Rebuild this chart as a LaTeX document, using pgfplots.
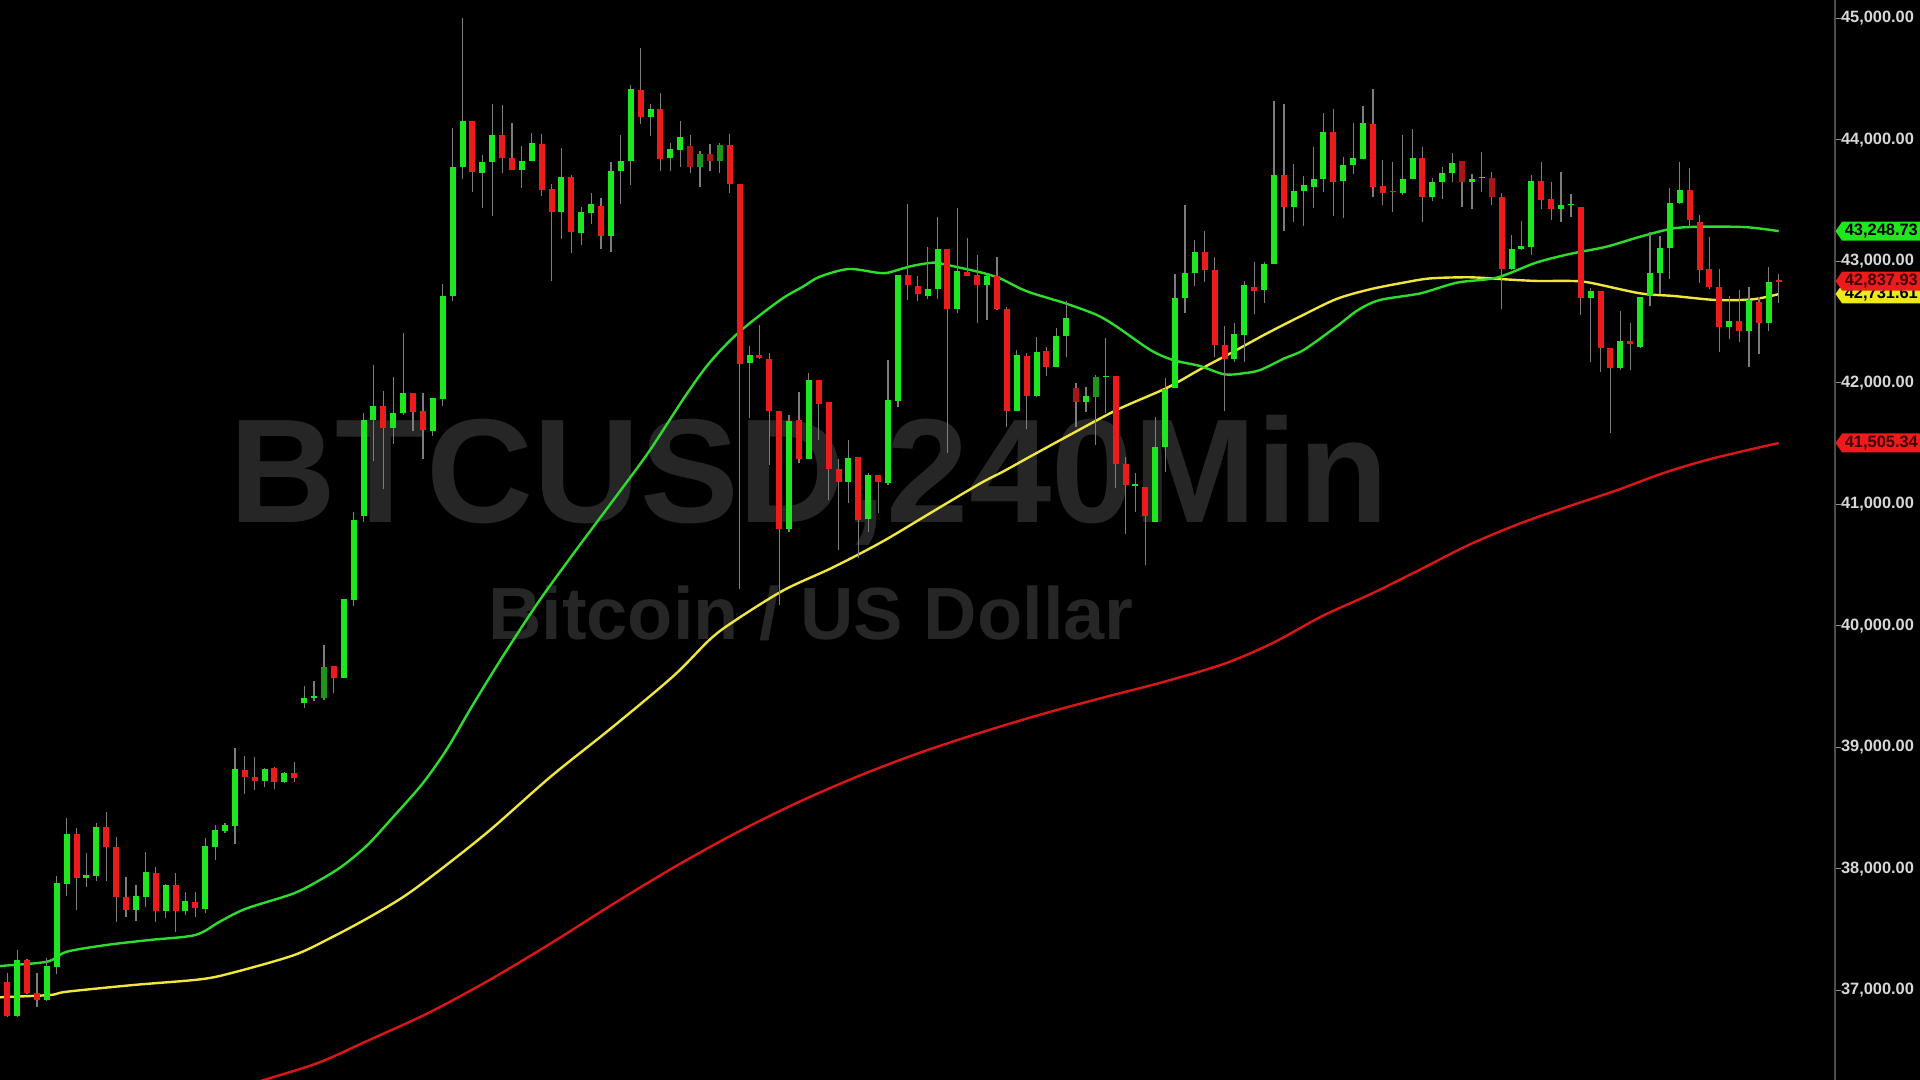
\documentclass[border=0pt]{standalone}
\usepackage{fontspec}
\setmainfont{Liberation Sans}
\usepackage{pgfplots}
\pgfplotsset{compat=1.18}
\usepackage{pgfplotstable}
\usetikzlibrary{shapes.symbols}

\definecolor{cup}{RGB}{32,230,32}
\definecolor{cdown}{RGB}{236,28,28}
\definecolor{cupdark}{RGB}{26,150,26}
\definecolor{cdowndark}{RGB}{170,22,22}
\definecolor{wick}{RGB}{125,125,125}
\definecolor{magreen}{RGB}{45,220,45}
\definecolor{mayellow}{RGB}{240,230,60}
\definecolor{mared}{RGB}{220,22,22}
\definecolor{wm}{RGB}{38,38,38}
\definecolor{lbl}{RGB}{215,215,215}
\definecolor{tagyellow}{RGB}{240,230,30}

% candles: index, open, high, low, close, colour class (1 up, 2 down, 3 dark up, 4 dark down)
\pgfplotstableread{
i o h l c t
0 36976 37110 36950 37072 1
1 37072 37140 36778 36789 2
2 36789 37332 36784 37250 1
3 37250 37255 36970 36981 2
4 36976 37140 36860 36921 2
5 36921 37264 36915 37201 1
6 37195 37941 37135 37886 1
7 37876 38416 37779 38287 1
8 38287 38334 37662 37922 2
9 37922 38133 37848 37950 1
10 37941 38380 37903 38347 1
11 38342 38471 37903 38177 2
12 38177 38265 37566 37766 2
13 37766 37936 37607 37662 2
14 37662 37867 37574 37777 1
15 37771 38142 37683 37977 1
16 37969 38018 37566 37656 2
17 37656 37875 37593 37870 1
18 37870 37963 37483 37656 2
19 37656 37812 37620 37733 1
20 37727 37812 37601 37675 2
21 37670 38251 37634 38188 1
22 38177 38361 38073 38320 1
23 38314 38375 38292 38361 1
24 38353 38992 38205 38819 1
25 38814 38929 38616 38753 2
26 38753 38918 38649 38726 2
27 38726 38827 38671 38822 1
28 38827 38841 38655 38718 2
29 38718 38800 38710 38792 1
30 38786 38877 38718 38745 2
31 39363 39503 39325 39408 1
32 39408 39548 39378 39412 1
33 39408 39843 39389 39665 3
34 39673 39673 39446 39571 2
35 39571 40221 39571 40221 1
36 40213 40939 40164 40875 1
37 40905 41752 40852 41695 1
38 41695 42149 41355 41812 1
39 41809 41930 41128 41627 2
40 41627 42047 41499 41752 1
41 41752 42413 41733 41915 1
42 41915 41915 41601 41763 2
43 41771 41915 41374 41612 2
44 41608 41873 41563 41873 1
45 41866 42810 41809 42716 1
46 42716 44096 42678 43774 1
47 43774 45003 43680 44152 1
48 44152 44152 43574 43737 2
49 43729 43876 43442 43820 1
50 43820 44292 43370 44039 1
51 44039 44285 43725 43850 2
52 43850 44141 43755 43755 2
53 43755 43952 43604 43823 1
54 43823 44058 43823 43971 1
55 43967 44049 43539 43588 2
56 43594 43638 42842 43404 2
57 43404 43937 43182 43698 1
58 43698 43712 43067 43245 2
59 43237 43451 43135 43404 1
60 43401 43561 43308 43473 1
61 43456 43520 43100 43210 2
62 43210 43816 43081 43747 1
63 43747 44041 43473 43830 1
64 43830 44452 43629 44419 1
65 44411 44754 44131 44186 2
66 44186 44296 44033 44252 1
67 44252 44389 43747 43843 2
68 43849 43972 43747 43923 1
69 43917 44159 43775 44022 1
70 43950 44041 43731 43775 4
71 43775 43912 43610 43884 3
72 43884 43967 43747 43827 4
73 43827 43972 43731 43959 3
74 43959 44049 43561 43635 2
75 43635 43635 40300 42155 2
76 42166 42303 41708 42229 1
77 42227 42476 42194 42202 2
78 42196 42243 41324 41771 2
79 41768 41768 40170 40795 2
80 40795 41736 40775 41689 1
81 41694 41928 41338 41371 2
82 41371 42084 41371 42024 1
83 42024 42024 41530 41826 2
84 41840 41840 41036 41288 2
85 41288 41371 40624 41187 2
86 41187 41530 41008 41379 1
87 41387 41387 40556 40871 2
88 40877 41255 40775 41242 1
89 41242 41242 40926 41187 2
90 41179 42188 41160 41859 1
91 41854 42888 41804 42888 1
92 42888 43472 42682 42805 2
93 42797 42880 42676 42729 2
94 42718 43121 42690 42770 1
95 42770 43362 42687 43099 1
96 43099 43099 41420 42608 2
97 42608 43436 42572 42923 1
98 42915 43189 42880 42882 2
99 42888 43052 42496 42805 2
100 42805 42888 42517 42880 1
101 42880 43039 42600 42608 2
102 42608 42622 41634 41771 2
103 41771 42270 41771 42229 1
104 42224 42243 41618 41895 2
105 41892 42381 41881 42257 1
106 42265 42293 42057 42128 2
107 42128 42449 42128 42386 1
108 42386 42677 42210 42531 1
109 41955 42002 41634 41840 4
110 41840 41969 41763 41892 1
111 41887 42065 41489 42046 3
112 42046 42367 41750 42060 1
113 42060 42060 41132 41333 2
114 41333 41387 40756 41160 2
115 41154 41256 40940 41154 1
116 41146 41146 40501 40905 2
117 40858 41717 40858 41475 1
118 41475 42038 41270 41947 1
119 41955 42896 41955 42696 1
120 42696 43464 42578 42902 1
121 42907 43176 42798 43080 1
122 43080 43253 42833 42929 2
123 42929 43033 42210 42312 2
124 42312 42468 41772 42194 2
125 42194 42496 42175 42403 1
126 42394 42841 42175 42806 1
127 42787 42998 42567 42759 2
128 42765 42998 42660 42979 1
129 42976 44323 42976 43711 1
130 43711 44295 43253 43450 2
131 43450 43802 43327 43582 1
132 43579 43703 43294 43629 1
133 43615 43939 43442 43676 1
134 43676 44224 43574 44068 1
135 44068 44252 43374 43651 2
136 43662 43857 43355 43793 1
137 43793 44142 43719 43848 1
138 43843 44279 43843 44136 1
139 44131 44419 43533 43610 2
140 43621 43835 43464 43566 2
141 43577 43821 43404 43571 2
142 43566 44040 43547 43676 1
143 43676 44087 43676 43854 1
144 43854 43944 43327 43533 2
145 43533 43684 43497 43651 1
146 43651 43780 43511 43725 1
147 43725 43895 43656 43813 1
148 43826 43826 43450 43651 4
149 43651 43720 43429 43681 1
150 43684 43903 43574 43684 1
151 43684 43739 43464 43527 4
152 43527 43560 42606 42937 2
153 42937 43217 42929 43099 1
154 43099 43333 43094 43124 1
155 43122 43711 43053 43662 1
156 43662 43821 43429 43505 2
157 43511 43656 43341 43429 2
158 43429 43739 43327 43464 1
159 43464 43555 43363 43464 1
160 43450 43450 42559 42696 2
161 42696 42778 42175 42759 1
162 42759 42759 42092 42284 2
163 42284 42284 41590 42120 2
164 42120 42594 42106 42348 1
165 42348 42496 42106 42320 2
166 42298 42710 42285 42710 1
167 42715 43245 42633 42907 1
168 42908 43209 42732 43108 1
169 43108 43601 42852 43478 1
170 43478 43821 43472 43588 1
171 43588 43766 43286 43341 2
172 43327 43382 42819 42929 2
173 42935 43204 42770 42792 2
174 42792 42935 42257 42457 2
175 42457 42718 42359 42510 1
176 42510 42765 42339 42430 2
177 42430 42787 42128 42682 1
178 42663 42710 42238 42496 2
179 42496 42957 42430 42833 1
180 42838 42896 42655 42834 2
}\candles

\pgfplotstableread{
x y
-1 37180
0.26 37200
5.0 37236
7.0 37318
11.05 37374
15.4 37415
20.0 37456
22.5 37567
25.1 37672
29.9 37797
32.6 37909
34.9 38026
37.4 38197
39.9 38419
42.95 38701
45.4 38983
47.9 39330
51.0 39740
54.7 40200
58.4 40616
62.1 41020
65.8 41430
69.5 41890
72.0 42170
75.0 42422
79.1 42682
81.4 42792
83.1 42874
86.0 42937
88.9 42907
90.0 42907
92.3 42960
94.6 42990
96.0 42970
98.0 42935
100.0 42896
101.5 42853
103.3 42779
104.5 42740
106.5 42690
108.1 42650
111.1 42559
113.1 42463
116.5 42271
118.8 42188
121.5 42139
124.0 42070
126.0 42080
127.6 42106
130.0 42200
132.0 42271
135.3 42463
137.5 42600
139.7 42682
143.8 42737
147.5 42825
151.5 42866
155.5 42990
158.9 43061
162.6 43121
166.0 43203
169.4 43272
172.7 43286
176.8 43281
180 43249
}\smafifty

\pgfplotstableread{
x y
-1 36935
0.26 36943
5.3 36962
7.0 36989
13.7 37044
20.5 37091
23.8 37146
29.96 37290
33.67 37432
37.38 37593
41.1 37774
44.8 37996
49.76 38318
55.95 38762
62.13 39165
68.32 39588
72.03 39891
74.5 40042
79.46 40294
84.4 40480
89.35 40690
94.3 40930
99.26 41170
101.6 41269
104.5 41400
108.1 41560
113.1 41777
118.2 41960
121.5 42110
124.9 42257
128.3 42408
131.6 42545
135.3 42690
138.7 42770
142.1 42825
144.8 42860
148.8 42869
152.2 42853
155.5 42839
158.9 42839
160.9 42825
166.0 42737
169.4 42715
173.7 42682
177.4 42688
180 42731
}\smahundred

\pgfplotstableread{
x y
22 36140
26.9 36262
32.4 36403
37.4 36585
43.6 36816
49.8 37089
56.0 37391
62.1 37705
68.3 38010
74.5 38290
80.7 38540
86.9 38760
93.0 38950
99.3 39120
105.4 39270
111.6 39407
117.8 39538
124.0 39689
128.9 39860
133.9 40082
138.8 40263
143.8 40465
148.7 40667
153.7 40838
158.6 40979
163.6 41115
168.5 41262
173.5 41382
180 41505
}\smatwohundred

\tikzset{pricetag/.style={shape=signal, signal to=west, signal pointer angle=110,
  minimum width=42.5pt, minimum height=9.5pt, inner sep=0pt, anchor=west,
  font=\bfseries\fontsize{8.2}{9}\selectfont, text=black}}

\begin{document}
\begin{tikzpicture}[x=0.5pt,y=0.5pt]
\fill[black] (0,0) rectangle (1920,1080);
\useasboundingbox (0,0) rectangle (1920,1080);
\begin{axis}[
  at={(0,0)}, anchor=south west,
  scale only axis, width=917.5pt, height=540pt,
  xmin=0.263, xmax=185.69, ymin=36262.5, ymax=45151.4,
  clip mode=individual,
  axis x line=none, axis y line*=right,
  axis line style={draw=black!70!white, line width=0.6pt},
  xtick=\empty,
  ytick={37000,38000,...,45000},
  tick align=outside, major tick length=2.8pt,
  tick style={draw=black!45!white, line width=0.6pt},
  scaled y ticks=false,
  /pgf/number format/assume math mode=true,
  yticklabel style={anchor=west, inner sep=0pt, text=lbl,
    font=\bfseries\fontsize{8.2}{9}\selectfont,
    /pgf/number format/fixed, /pgf/number format/fixed zerofill,
    /pgf/number format/precision=2, /pgf/number format/1000 sep={,}},
]
% watermark
\node[anchor=base, text=wm, font=\bfseries\fontsize{74}{74}\selectfont]
  at (axis cs:82.0,40847) {BTCUSD,240Min};
\node[anchor=base, text=wm, font=\bfseries\fontsize{37}{37}\selectfont]
  at (axis cs:82.2,39884) {Bitcoin / US Dollar};

% moving averages
\addplot[mared, line width=1.2pt, smooth, tension=0.5] table {\smatwohundred};
\addplot[mayellow, line width=1.2pt, smooth, tension=0.5] table {\smahundred};
\addplot[magreen, line width=1.2pt, smooth, tension=0.5] table {\smafifty};

% wicks
\addplot[draw=wick, line width=0.6pt, quiver={u=0, v=\thisrow{h}-\thisrow{l}}]
  table[x=i, y=l] {\candles};
% bodies
\addplot[draw=cup, line width=3pt, restrict expr to domain={\thisrow{t}}{1:1},
  quiver={u=0, v={max(abs(\thisrow{c}-\thisrow{o}),12)}}]
  table[x=i, y expr={min(\thisrow{o},\thisrow{c})}] {\candles};
\addplot[draw=cdown, line width=3pt, restrict expr to domain={\thisrow{t}}{2:2},
  quiver={u=0, v={max(abs(\thisrow{c}-\thisrow{o}),12)}}]
  table[x=i, y expr={min(\thisrow{o},\thisrow{c})}] {\candles};
\addplot[draw=cupdark, line width=3pt, restrict expr to domain={\thisrow{t}}{3:3},
  quiver={u=0, v={max(abs(\thisrow{c}-\thisrow{o}),12)}}]
  table[x=i, y expr={min(\thisrow{o},\thisrow{c})}] {\candles};
\addplot[draw=cdowndark, line width=3pt, restrict expr to domain={\thisrow{t}}{4:4},
  quiver={u=0, v={max(abs(\thisrow{c}-\thisrow{o}),12)}}]
  table[x=i, y expr={min(\thisrow{o},\thisrow{c})}] {\candles};

% price tags
\node[pricetag, fill=cup] at (axis cs:185.69,43248.73) {43,248.73};
\node[pricetag, fill=tagyellow] at (axis cs:185.69,42731.61) {42,731.61};
\node[pricetag, fill=cdown, text=black!75!red] at (axis cs:185.69,42837.93) {42,837.93};
\node[pricetag, fill=cdown, text=black!75!red] at (axis cs:185.69,41505.34) {41,505.34};
\end{axis}
\end{tikzpicture}
\end{document}
